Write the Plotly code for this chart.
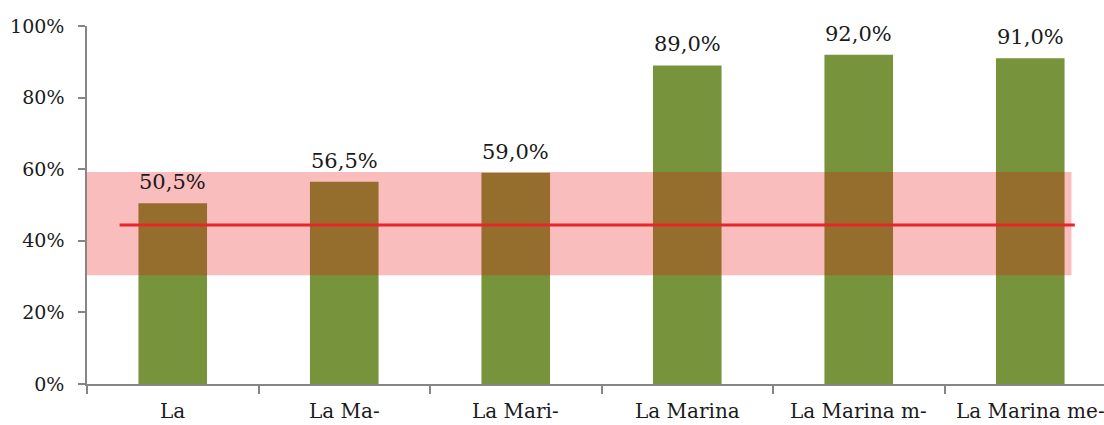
import plotly.graph_objects as go

categories = ["La", "La Ma-", "La Mari-", "La Marina", "La Marina m-", "La Marina me-"]
values = [50.5, 56.5, 59.0, 89.0, 92.0, 91.0]
band_low = 30.4
band_high = 59.2
ref_value = 44.4
band_x = [-0.5, 5.24]
ref_x = [-0.31, 5.26]
y_ticks = [0, 20, 40, 60, 80, 100]
y_ticktext = ["0%", "20%", "40%", "60%", "80%", "100%"]

FONT = "DejaVu Serif"
xs = list(range(len(categories)))

fig = go.Figure()
fig.add_trace(go.Bar(
    x=xs, y=values,
    marker=dict(color="#77933C", line=dict(width=0)),
    width=0.40, hoverinfo="skip",
))
fig.add_trace(go.Scatter(
    x=[band_x[0], band_x[1], band_x[1], band_x[0], band_x[0]],
    y=[band_low, band_low, band_high, band_high, band_low],
    fill="toself", fillcolor="rgba(235,0,0,0.26)", mode="none",
    hoverinfo="skip",
))
fig.add_trace(go.Scatter(
    x=ref_x, y=[ref_value, ref_value], mode="lines",
    line=dict(color="#E8262A", width=3), hoverinfo="skip",
))

for x, v in zip(xs, values):
    fig.add_annotation(
        x=x, y=v, text=f"{v:.1f}%".replace(".", ","),
        showarrow=False, yanchor="bottom", yshift=7,
        font=dict(family=FONT, size=21, color="#1a1a1a"),
    )

for x, c in zip(xs, categories):
    fig.add_annotation(
        x=x, y=0, text=c, showarrow=False,
        yanchor="middle", yshift=-27,
        font=dict(family=FONT, size=20, color="#1a1a1a"),
    )

fig.update_layout(
    width=1104, height=425,
    margin=dict(l=87, r=0, t=26, b=41),
    paper_bgcolor="white", plot_bgcolor="white",
    showlegend=False,
    separators=",.",
    font=dict(family=FONT, size=19, color="#1a1a1a"),
)
fig.update_xaxes(
    range=[-0.5, 5.43], automargin=False,
    tickmode="array", tickvals=xs, ticktext=[""] * len(xs),
    showgrid=False, zeroline=False,
    showline=True, linecolor="#868686", linewidth=1.5,
    ticks="",
    minor=dict(tickmode="linear", tick0=-0.5, dtick=1, ticks="outside",
               ticklen=8, tickcolor="#868686", tickwidth=1.5, showgrid=False),
)
fig.update_yaxes(
    range=[0, 100], automargin=False,
    tickmode="array", tickvals=y_ticks, ticktext=y_ticktext,
    showgrid=False, zeroline=False,
    showline=True, linecolor="#868686", linewidth=1.5,
    ticks="outside", ticklen=7, tickcolor="#868686", tickwidth=1.5,
    ticklabelstandoff=10,
    tickfont=dict(family=FONT, size=19),
)
fig.write_html("out.html", config={"displayModeBar": False},
               post_script="document.body.style.margin='0';")
